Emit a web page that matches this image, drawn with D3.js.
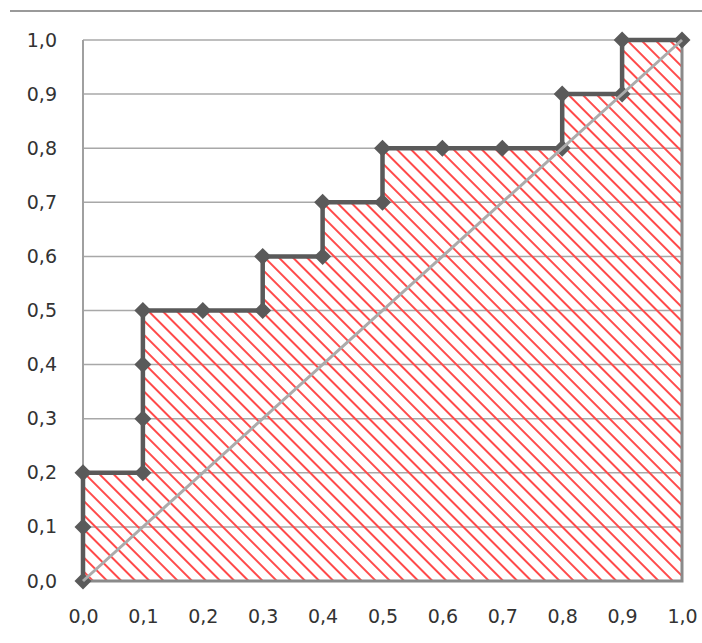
<!DOCTYPE html>
<html>
<head>
<meta charset="utf-8">
<script src="https://cdn.jsdelivr.net/npm/d3@7/dist/d3.min.js"></script>
<style>
  html, body { margin: 0; padding: 0; background: #fff; }
  svg { display: block; }
  .tick text { font-family: "DejaVu Sans", Verdana, sans-serif; font-size: 19px; fill: #333; }
</style>
</head>
<body>
<svg id="chart" width="702" height="643"></svg>
<script>
// ROC step curve: false positive rate vs true positive rate
const fpr = [0.0, 0.0, 0.0, 0.1, 0.1, 0.1, 0.1, 0.2, 0.3, 0.3, 0.4, 0.4, 0.5, 0.5, 0.6, 0.7, 0.8, 0.8, 0.9, 0.9, 1.0];
const tpr = [0.0, 0.1, 0.2, 0.2, 0.3, 0.4, 0.5, 0.5, 0.5, 0.6, 0.6, 0.7, 0.7, 0.8, 0.8, 0.8, 0.8, 0.9, 0.9, 1.0, 1.0];
// Reference diagonal (random classifier)
const diagX = [0.0, 1.0];
const diagY = [0.0, 1.0];
const tickValues = [0.0, 0.1, 0.2, 0.3, 0.4, 0.5, 0.6, 0.7, 0.8, 0.9, 1.0];

const curve = fpr.map((x, i) => ({ x, y: tpr[i] }));
const diag = diagX.map((x, i) => ({ x, y: diagY[i] }));

const svg = d3.select("#chart");
const x = d3.scaleLinear().domain([0, 1]).range([83, 682]);
const y = d3.scaleLinear().domain([0, 1]).range([581, 40]);
const fmt = d => d3.format(".1f")(d).replace(".", ",");

// separator line across the top
svg.append("line")
  .attr("x1", 10).attr("x2", 702).attr("y1", 11).attr("y2", 11)
  .attr("stroke", "#9a9a9a").attr("stroke-width", 2);

// hatch pattern for the area under the curve (lines running down to the right)
const defs = svg.append("defs");
const pat = defs.append("pattern")
  .attr("id", "hatch").attr("patternUnits", "userSpaceOnUse")
  .attr("width", 10).attr("height", 10)
  .attr("patternTransform", "rotate(45)");
pat.append("line")
  .attr("x1", 0).attr("x2", 10).attr("y1", 5).attr("y2", 5)
  .attr("stroke", "#ff4a4a").attr("stroke-width", 2);

// horizontal gridlines
svg.append("g").selectAll("line").data(tickValues).join("line")
  .attr("x1", x(0)).attr("x2", x(1))
  .attr("y1", d => y(d)).attr("y2", d => y(d))
  .attr("stroke", "#a8a8a8").attr("stroke-width", 1.5);

// left axis line
svg.append("line")
  .attr("x1", x(0)).attr("x2", x(0)).attr("y1", y(0)).attr("y2", y(1))
  .attr("stroke", "#a0a0a0").attr("stroke-width", 2);

// hatched area under the step curve
const area = d3.area().x(d => x(d.x)).y0(y(0)).y1(d => y(d.y));
svg.append("path").datum(curve)
  .attr("d", area)
  .attr("fill", "url(#hatch)")
  .attr("stroke", "#8a8a8a").attr("stroke-width", 3);

// step curve
const line = d3.line().x(d => x(d.x)).y(d => y(d.y));
svg.append("path").datum(curve)
  .attr("d", line)
  .attr("fill", "none").attr("stroke", "#5a5a5a")
  .attr("stroke-width", 4.5).attr("stroke-linejoin", "miter");

// diamond markers
const r = 8.5;
svg.append("g").selectAll("path").data(curve).join("path")
  .attr("d", d => {
    const cx = x(d.x), cy = y(d.y);
    return `M${cx},${cy - r}L${cx + r},${cy}L${cx},${cy + r}L${cx - r},${cy}Z`;
  })
  .attr("fill", "#5a5a5a");

// diagonal
svg.append("path").datum(diag)
  .attr("d", line)
  .attr("fill", "none").attr("stroke", "#ababab").attr("stroke-width", 3);

// axes labels
const yAxis = d3.axisLeft(y).tickValues(tickValues).tickFormat(fmt).tickSize(0).tickPadding(26);
const gy = svg.append("g").attr("transform", `translate(${x(0)},0)`).call(yAxis);
gy.select(".domain").remove();

const xAxis = d3.axisBottom(x).tickValues(tickValues).tickFormat(fmt).tickSize(0).tickPadding(29);
const gx = svg.append("g").attr("transform", `translate(0,${y(0)})`).call(xAxis);
gx.select(".domain").remove();
</script>
</body>
</html>
